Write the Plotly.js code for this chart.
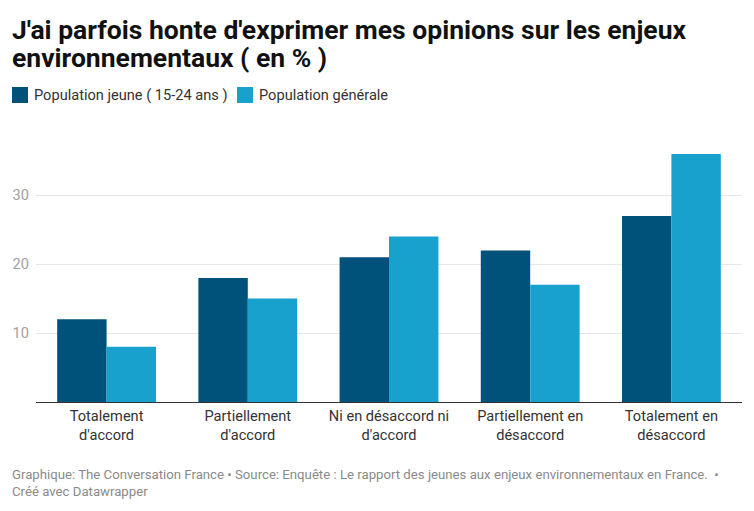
<!DOCTYPE html>
<html>
<head>
<meta charset="utf-8">
<script src="https://cdn.plot.ly/plotly-3.0.1.min.js"></script>
<style>html,body{margin:0;padding:0;background:#fff;}#chart{width:754px;height:511px;}</style>
</head>
<body>
<div id="chart"></div>
<script>
var categories = ["Totalement<br>d'accord", "Partiellement<br>d'accord", "Ni en désaccord ni<br>d'accord", "Partiellement en<br>désaccord", "Totalement en<br>désaccord"];
var seriesNames = ["Population jeune ( 15-24 ans )", "Population générale"];
var jeunes = [12, 18, 21, 22, 27];
var generale = [8, 15, 24, 17, 36];
var yTicks = [10, 20, 30];
var titleLines = ["J'ai parfois honte d'exprimer mes opinions sur les enjeux", "environnementaux ( en % )"];
var footerText = "Graphique: The Conversation France • Source: Enquête : Le rapport des jeunes aux enjeux environnementaux en France.  •<br>Créé avec Datawrapper";

var colors = ["#00527a", "#18a1cd"];
var FONT = "Roboto, 'Liberation Sans', sans-serif";

var traces = [
  {type: "bar", x: categories, y: jeunes, name: seriesNames[0], marker: {color: colors[0], line: {width: 0}}, showlegend: false, hoverinfo: "y"},
  {type: "bar", x: categories, y: generale, name: seriesNames[1], marker: {color: colors[1], line: {width: 0}}, showlegend: false, hoverinfo: "y"}
];

// plot geometry helpers (pixel -> paper)
var W = 754, H = 511, mL = 36, mR = 12, mT = 147, mB = 109;
var pw = W - mL - mR, ph = H - mT - mB;
function px(x) { return (x - mL) / pw; }
function py(y) { return (H - mB - y) / ph; }

var shapes = [];
var annotations = [];
var titleY = [29, 58];
for (var t = 0; t < titleLines.length; t++) {
  annotations.push({xref: "paper", yref: "paper", x: px(10), y: py(titleY[t]), xanchor: "left", yanchor: "middle", showarrow: false, text: titleLines[t], font: {family: FONT, size: 26.5, color: "#111", weight: "bold"}});
}
var legendPos = [12, 237];
for (var i = 0; i < seriesNames.length; i++) {
  shapes.push({type: "rect", xref: "paper", yref: "paper", x0: px(legendPos[i]), x1: px(legendPos[i] + 16), y0: py(103), y1: py(87), fillcolor: colors[i], line: {width: 0}});
  annotations.push({xref: "paper", yref: "paper", x: px(legendPos[i] + 20), y: py(95), xanchor: "left", yanchor: "middle", showarrow: false, text: seriesNames[i], font: {family: FONT, size: 14.6, color: "#333"}});
}
annotations.push({xref: "paper", yref: "paper", x: px(10), y: py(465), xanchor: "left", yanchor: "top", align: "left", showarrow: false, text: footerText, font: {family: FONT, size: 13.2, color: "#8a8a8a"}});

var layout = {
  width: W, height: H,
  margin: {l: mL, r: mR, t: mT, b: mB, pad: 0},
  paper_bgcolor: "#fff", plot_bgcolor: "#fff",
  font: {family: FONT},
  barmode: "group", bargap: 0.30, bargroupgap: 0,
  xaxis: {type: "category", range: [-0.5, 4.5], showline: true, linecolor: "#333", linewidth: 1, showgrid: false, ticks: "", tickfont: {family: FONT, size: 14.6, color: "#333"}, fixedrange: true},
  yaxis: {range: [0, 37], tickvals: yTicks, ticktext: yTicks.map(String), showgrid: true, gridcolor: "#e6e6e6", gridwidth: 1, zeroline: false, showline: false, ticks: "", ticklabelstandoff: 6, tickfont: {family: FONT, size: 14.6, color: "#a0a0a0"}, fixedrange: true},
  shapes: shapes,
  annotations: annotations,
  showlegend: false
};

Plotly.newPlot("chart", traces, layout, {displayModeBar: false, staticPlot: true});
</script>
</body>
</html>
